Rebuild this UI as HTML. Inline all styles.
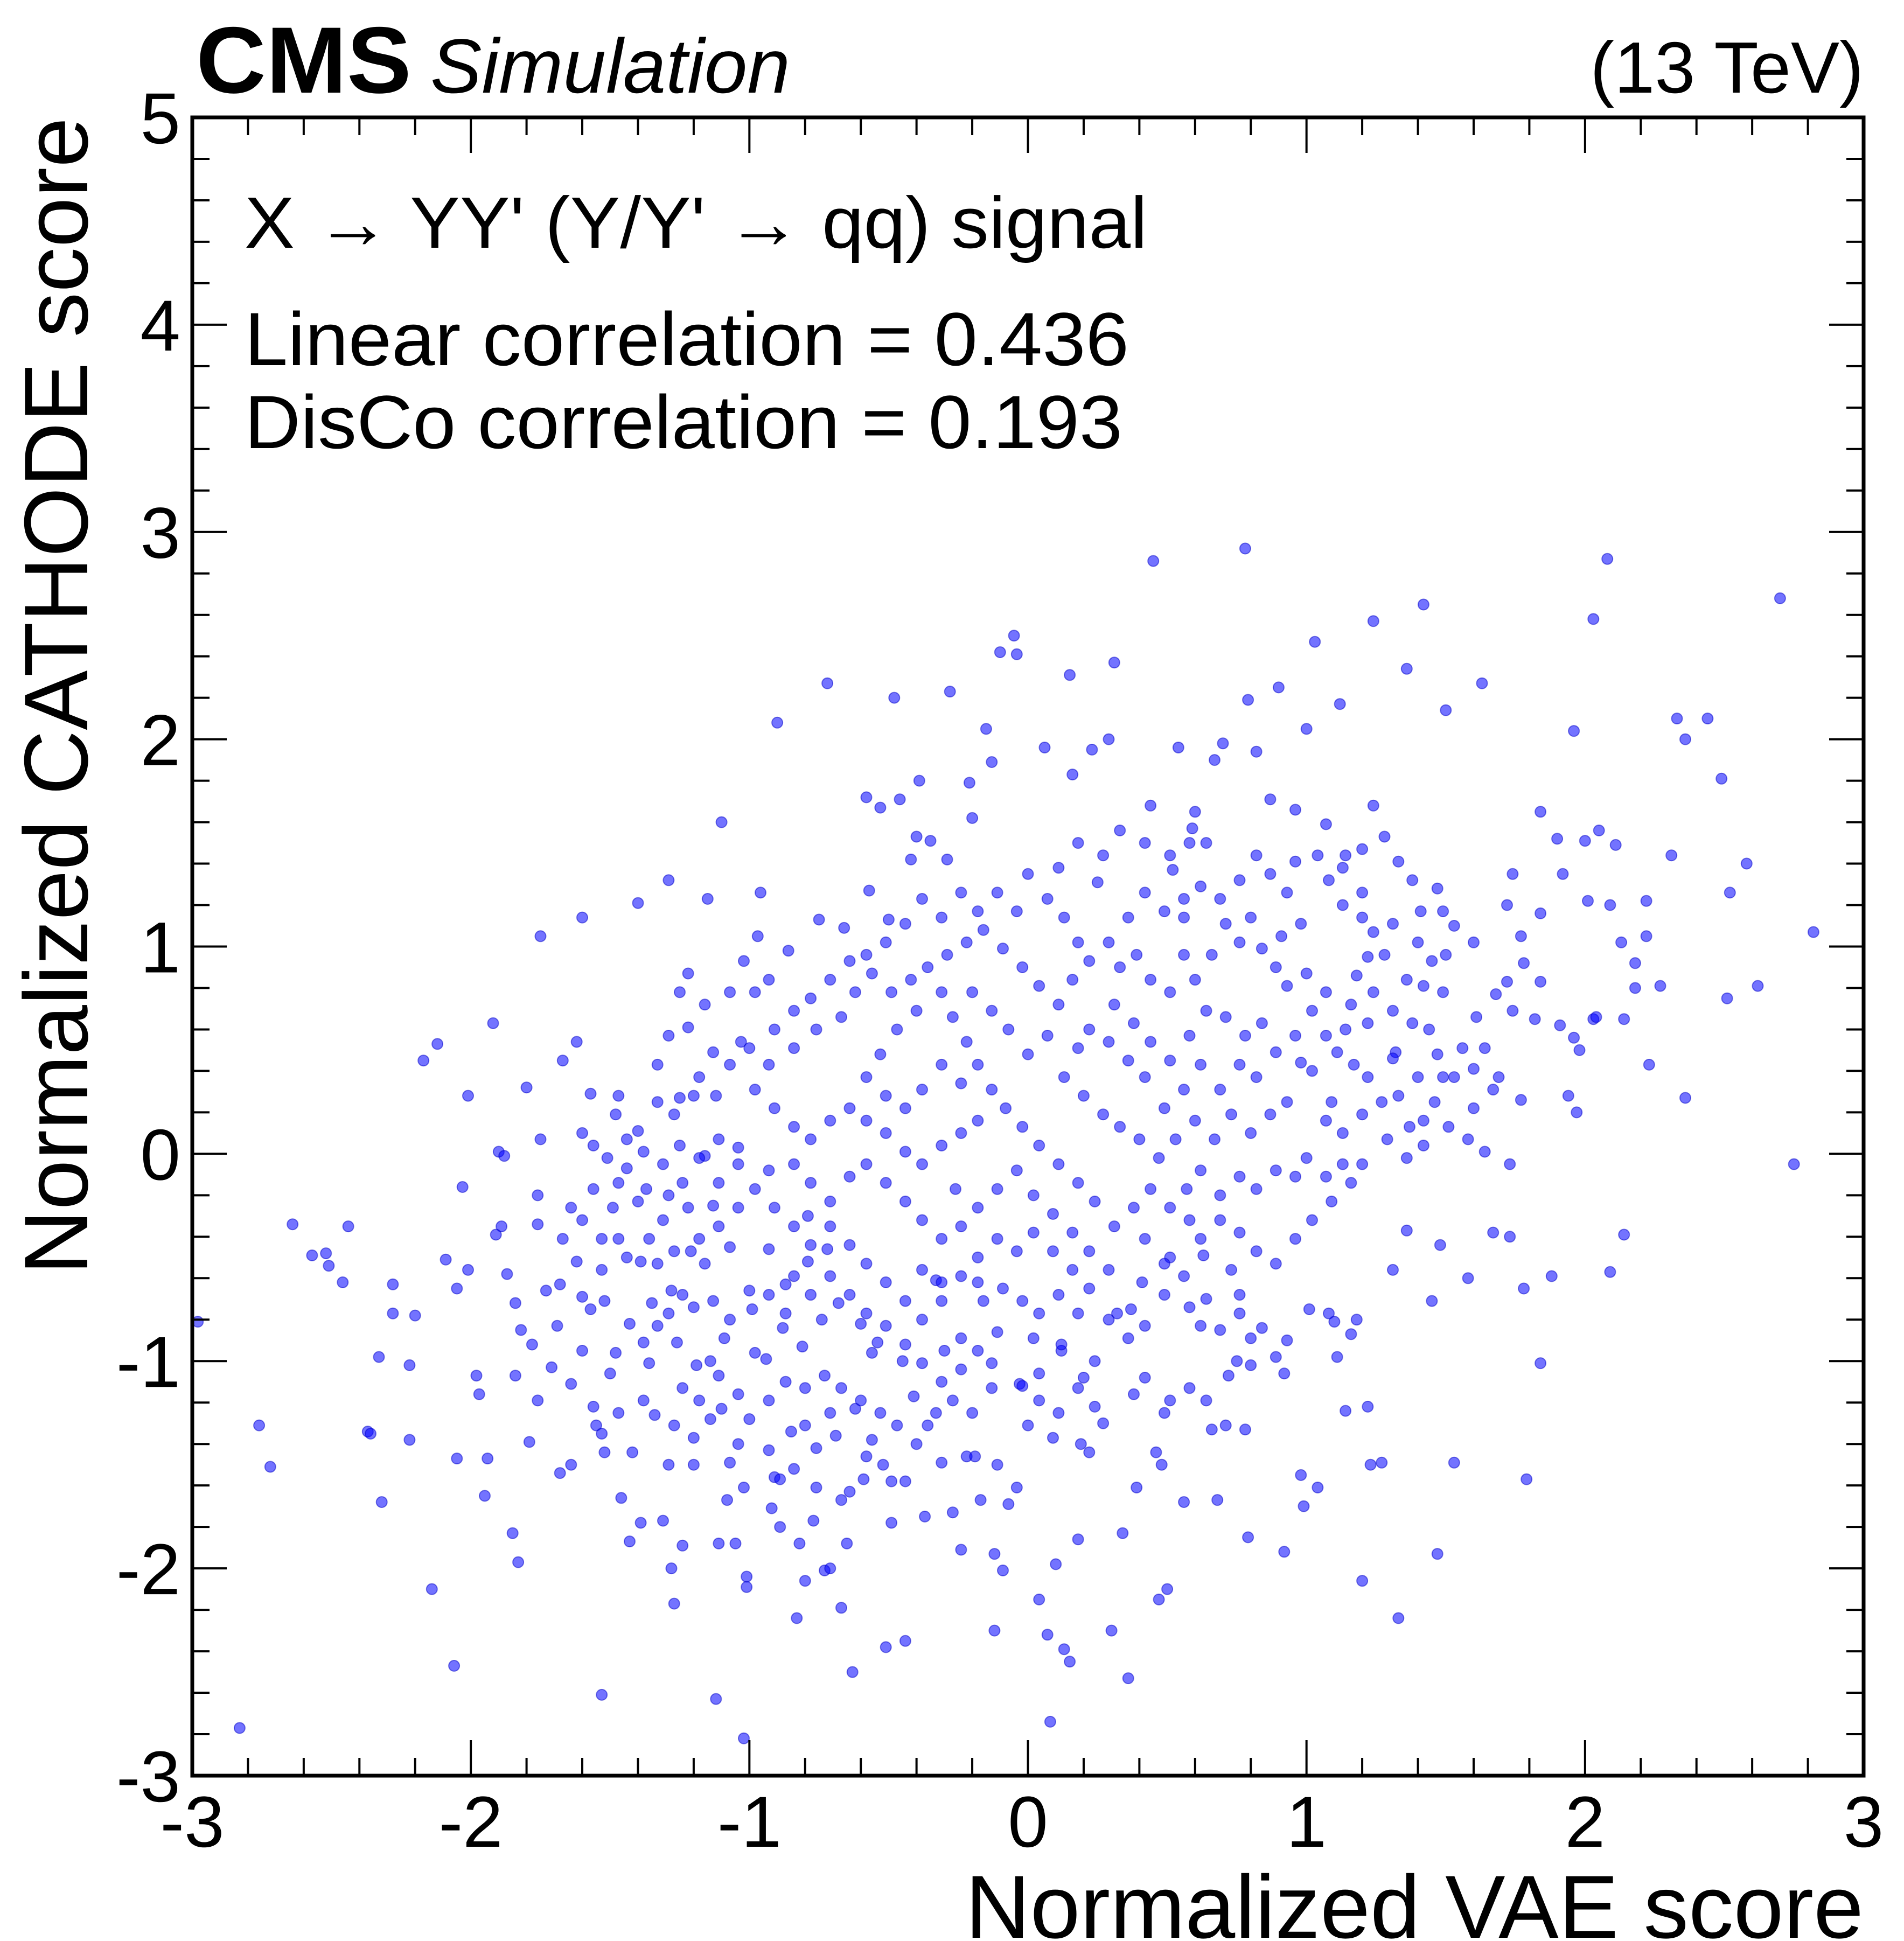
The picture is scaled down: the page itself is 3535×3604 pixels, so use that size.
<!DOCTYPE html>
<html><head><meta charset="utf-8"><style>
html,body{margin:0;padding:0;background:#fff;}
svg{display:block;font-family:"Liberation Sans",Arial,sans-serif;}
</style></head><body>
<svg id="chart" width="3535" height="3604" viewBox="0 0 3535 3604" xmlns="http://www.w3.org/2000/svg">
<rect x="0" y="0" width="3535" height="3604" fill="#fff"/>
<g id="points"></g>
<g id="ticks"></g>
<rect x="357" y="218" width="3103" height="3079" fill="none" stroke="#000" stroke-width="7"/>
<g id="labels"></g>
<text x="364" y="172" font-size="175" font-weight="bold" textLength="400" lengthAdjust="spacingAndGlyphs">CMS</text>
<text x="799" y="172" font-size="143" font-style="italic" textLength="668" lengthAdjust="spacingAndGlyphs">Simulation</text>
<text x="3460" y="172" font-size="135" text-anchor="end">(13 TeV)</text>
<text x="454" y="460" font-size="135" textLength="1676" lengthAdjust="spacingAndGlyphs">X → YY' (Y/Y' → qq) signal</text>
<text x="454" y="678" font-size="140" textLength="1642" lengthAdjust="spacingAndGlyphs">Linear correlation = 0.436</text>
<text x="454" y="832" font-size="140" textLength="1630" lengthAdjust="spacingAndGlyphs">DisCo correlation = 0.193</text>
<text x="3460" y="3598" font-size="166" text-anchor="end" textLength="1668" lengthAdjust="spacingAndGlyphs">Normalized VAE score</text>
<text transform="translate(162,218) rotate(-90)" x="0" y="0" font-size="168" text-anchor="end" textLength="2149" lengthAdjust="spacingAndGlyphs">Normalized CATHODE score</text>
</svg>
<script>
const xTickLabels = ["-3","-2","-1","0","1","2","3"];
const xTickValues = [-3,-2,-1,0,1,2,3];
const yTickLabels = ["-3","-2","-1","0","1","2","3","4","5"];
const yTickValues = [-3,-2,-1,0,1,2,3,4,5];
const scatterPoints = [
[-2.98,-0.81],[-2.83,-2.77],[-2.76,-1.31],[-2.72,-1.51],[-2.64,-0.34],[-2.57,-0.49],[-2.52,-0.48],[-2.51,-0.54],[-2.44,-0.35],[-2.46,-0.62],
[-2.37,-1.34],[-2.36,-1.35],[-2.33,-0.98],[-2.32,-1.68],[-2.28,-0.63],[-2.28,-0.77],[-2.22,-1.02],[-2.22,-1.38],[-2.2,-0.78],[-2.17,0.45],
[-2.14,-2.10],[-2.12,0.53],[-2.09,-0.51],[-2.05,-0.65],[-2.06,-2.47],[-2.03,-0.16],[-2.05,-1.47],[-2.01,0.28],[-2.01,-0.56],[-1.98,-1.07],
[-1.97,-1.16],[-1.94,-1.47],[-1.95,-1.65],[-1.92,0.63],[-1.9,0.01],[-1.88,-0.01],[-1.89,-0.35],[-1.91,-0.39],[-1.87,-0.58],[-1.85,-1.83],
[-1.83,-1.97],[-1.84,-0.72],[-1.82,-0.85],[-1.8,0.32],[-1.79,-1.39],[-1.76,-0.2],[-1.76,-0.34],[-1.75,1.05],[-1.75,0.07],[-1.73,-0.66],
[-1.71,-1.03],[-1.68,-0.63],[-1.68,-1.54],[-1.67,0.45],[-1.64,-1.11],[-1.64,-1.5],[-1.62,-0.52],[-1.62,0.54],[-1.6,1.14],[-1.6,-0.69],
[-1.57,-0.75],[-1.57,0.29],[-1.56,-1.22],[-1.55,-1.31],[-1.53,-2.61],[-1.53,-1.35],[-1.53,-0.56],[-1.52,-0.71],[-1.52,-1.44],[-1.5,-1.06],
[-1.48,-0.96],[-1.48,0.19],[-1.47,-0.41],[-1.46,-1.66],[-1.44,-0.07],[-1.43,-0.82],[-1.43,-1.87],[-1.42,-1.44],[-1.4,1.21],[-1.4,0.11],
[-1.39,-0.52],[-1.39,-1.78],[-1.38,-0.91],[-1.37,-0.17],[-1.36,-0.41],[-1.35,-0.72],[-1.34,-1.26],[-1.33,-0.83],[-1.31,-1.77],[-1.31,-0.32],
[-1.29,1.32],[-1.29,-1.5],[-1.28,-2.0],[-1.28,-0.66],[-1.27,-2.17],[-1.26,-0.91],[-1.25,0.27],[-1.25,0.04],[-1.24,-0.68],[-1.25,0.78],
[-1.24,-1.89],[-1.22,0.87],[-1.22,0.61],[-1.21,-0.47],[-1.2,-1.5],[-1.19,-1.02],[-1.18,0.37],[-1.16,-0.01],[-1.16,-0.53],[-1.15,1.23],
[-1.14,-1.28],[-1.14,-1.0],[-1.13,-0.25],[-1.12,-2.63],[-1.12,0.28],[-1.11,-1.88],[-1.1,1.6],[-1.1,-1.23],[-1.09,-0.89],[-1.08,-1.67],
[-1.07,-0.45],[-1.05,-1.88],[-1.04,0.03],[-1.04,-1.4],[-1.03,0.54],[-1.02,0.93],[-1.02,-2.82],[-1.01,-2.04],[-1.01,-2.09],[-1.0,-0.66],
[-0.99,-0.75],[-0.98,-0.96],[-0.97,1.05],[-0.96,1.26],[-0.94,-0.99],[-0.93,-0.08],[-0.93,-0.46],[-0.92,-1.71],[-0.91,-1.56],[-0.9,2.08],
[-0.89,-1.57],[-0.89,-1.8],[-0.88,-0.84],[-0.87,-0.63],[-0.86,0.98],[-0.85,-1.34],[-0.84,-0.59],[-0.83,-2.24],[-0.82,-1.88],[-0.81,-0.93],
[-0.8,-2.06],[-0.79,-0.52],[-0.79,-0.3],[-0.77,-1.77],[-0.76,-1.42],[-0.75,1.13],[-0.74,-0.8],[-0.73,-2.01],[-0.72,2.27],[-0.72,-0.46],
[-0.71,-2.0],[-0.69,-1.36],[-0.68,-0.72],[-0.67,-2.19],[-0.66,1.09],[-0.65,-1.88],[-0.64,-1.63],[-0.63,-2.5],[-0.62,-1.23],[-0.6,-0.82],
[-0.59,-1.57],[-0.58,1.72],[-0.57,1.27],[-0.56,-1.38],[-0.56,-0.96],[-0.54,-0.91],[-0.53,1.67],[-0.52,-1.5],[-0.51,-2.38],[-0.5,1.13],
[-0.49,-1.78],[-0.48,2.2],[-0.46,1.71],[-0.45,-1.0],[-0.44,-2.35],[-0.44,-1.58],[-0.42,1.42],[-0.41,-1.17],[-0.4,1.53],[-0.39,1.8],
[-0.38,-0.56],[-0.37,-1.75],[-0.36,-1.31],[-0.35,1.51],[-0.33,-0.61],[-0.31,-0.62],[-0.3,-0.95],[-0.29,1.42],[-0.28,2.23],[-0.27,-1.73],
[-0.26,-0.17],[-0.24,-1.91],[-0.24,-0.89],[-0.22,-1.46],[-0.21,1.79],[-0.2,1.62],[-0.19,-1.46],[-0.18,-0.62],[-0.17,-1.67],[-0.16,-0.71],
[-0.15,2.05],[-0.13,1.89],[-0.12,-1.93],[-0.12,-2.3],[-0.11,-1.5],[-0.1,2.42],[-0.09,-2.01],[-0.07,-1.69],[-0.05,2.5],[-0.04,-1.61],
[-0.04,2.41],[-0.03,-1.11],[-0.02,-1.12],[0.0,-1.31],[0.0,1.35],[0.02,-0.89],[0.04,-2.15],[0.04,-1.06],[0.06,1.96],[0.07,-2.32],
[0.08,-2.74],[0.09,-1.37],[0.1,-1.98],[0.12,-0.95],[0.12,-0.92],[0.13,-2.39],[0.15,-2.45],[0.15,2.31],[0.16,1.83],[0.18,-1.86],
[0.19,-1.4],[0.2,-1.08],[0.22,-1.44],[0.23,1.95],[0.24,-1.0],[0.25,1.31],[0.27,-1.3],[0.29,2.0],[0.3,-2.3],[0.31,2.37],
[0.32,-0.77],[0.34,-1.83],[0.36,-2.53],[0.37,-0.75],[0.38,-1.16],[0.39,-1.61],[0.41,-0.62],[0.42,-1.08],[0.44,1.68],[0.45,2.86],
[0.46,-1.44],[0.47,-2.15],[0.48,-1.5],[0.49,-1.25],[0.5,-2.1],[0.51,-0.5],[0.52,1.37],[0.54,1.96],[0.56,1.14],[0.56,-1.68],
[0.58,-0.74],[0.59,1.57],[0.6,1.65],[0.62,-0.83],[0.63,-0.49],[0.64,-0.7],[0.66,-1.33],[0.67,1.9],[0.68,-1.67],[0.69,-0.85],
[0.7,1.98],[0.72,-1.07],[0.73,-0.56],[0.75,-1.0],[0.76,-0.68],[0.78,-1.33],[0.78,2.92],[0.79,-1.85],[0.79,2.19],[0.8,-1.02],
[0.82,1.94],[0.84,-0.84],[0.87,1.71],[0.89,-0.98],[0.9,2.25],[0.92,-1.92],[0.92,-1.06],[0.93,-0.9],[0.96,1.66],[0.98,-1.55],
[0.99,-1.7],[1.0,2.05],[1.01,-0.75],[1.03,2.47],[1.04,-1.61],[1.07,1.59],[1.08,-0.77],[1.1,-0.81],[1.11,-0.98],[1.12,2.17],
[1.14,-1.24],[1.16,-0.87],[1.18,-0.8],[1.2,-2.06],[1.22,-1.22],[1.23,-1.5],[1.24,2.57],[1.27,-1.49],[1.31,-0.56],[1.33,-2.24],
[1.36,2.34],[1.36,-0.37],[1.42,2.65],[1.45,-0.71],[1.47,-1.93],[1.48,-0.44],[1.5,2.14],[1.53,-1.49],[1.58,-0.6],[1.63,2.27],
[1.67,-0.38],[1.73,-0.4],[1.78,-0.65],[1.79,-1.57],[1.84,-1.01],[1.88,-0.59],[1.96,2.04],[2.03,2.58],[2.08,2.87],[2.09,-0.57],
[2.14,-0.39],[2.23,0.43],[2.33,2.1],[2.36,0.27],[2.44,2.1],[2.49,1.81],[2.51,0.75],[2.52,1.26],[2.58,1.4],[2.62,0.81],
[2.7,2.68],[2.75,-0.05],[2.82,1.07],[2.36,2.0],
[1.84,1.65],[1.9,1.52],[2.0,1.51],[2.05,1.56],[2.11,1.49],[2.01,1.22],[1.92,1.35],[1.84,1.16],[1.77,1.05],[1.74,1.35],
[1.72,1.2],[1.78,0.92],[1.84,0.83],[1.72,0.83],[1.68,0.77],[1.74,0.69],[1.61,0.66],[1.64,0.51],[1.6,0.41],[1.69,0.37],
[1.77,0.26],[1.82,0.65],[1.91,0.62],[1.96,0.56],[1.98,0.5],[1.94,0.28],[1.97,0.2],[2.03,0.65],[2.14,0.65],[2.18,0.8],
[2.18,0.92],[2.22,1.05],[2.27,0.81],[2.31,1.44],[2.22,1.22],[2.13,1.02],[2.09,1.2],[2.04,0.66],[1.56,0.51],[1.53,0.37],
[1.49,0.37],[1.42,0.16],[1.37,0.13],[1.33,0.28],[1.32,0.49],[1.38,0.63],[1.44,0.6],[1.49,0.78],[1.42,0.81],[1.45,0.93],
[1.5,0.96],[1.53,1.1],[1.6,1.02],[1.49,1.17],[1.47,1.28],[1.41,1.17],[1.38,1.32],[1.33,1.41],[1.28,1.53],[1.24,1.68],
[1.2,1.47],[1.14,1.44],[1.08,1.32],[1.13,1.2],[1.2,1.14],[1.24,1.07],[1.28,0.96],[1.22,0.95],[1.18,0.86],[1.24,0.78],
[1.31,0.69],[1.22,0.63],[1.14,0.6],[1.11,0.49],[1.17,0.43],[1.22,0.37],[1.27,0.25],[1.2,0.19],[1.13,0.1],[1.07,0.16],
[1.09,0.25],[1.02,0.4],[0.98,0.44],[0.96,0.57],[1.02,0.69],[1.07,0.78],[1.0,0.87],[0.93,0.81],[0.89,0.9],[0.84,0.99],
[0.91,1.05],[0.98,1.11],[0.93,1.26],[0.87,1.35],[0.8,1.14],[0.76,1.02],[0.71,1.11],[0.66,0.96],[0.6,0.84],[0.56,0.96],
[0.51,0.78],[0.44,0.84],[0.39,0.96],[0.33,0.9],[0.31,0.72],[0.38,0.63],[0.44,0.54],[0.51,0.45],[0.58,0.57],[0.64,0.69],
[0.71,0.66],[0.78,0.57],[0.84,0.63],[0.89,0.49],[0.82,0.37],[0.76,0.43],[0.69,0.31],[0.62,0.43],[0.56,0.31],[0.49,0.22],
[0.42,0.37],[0.36,0.45],[0.29,0.54],[0.22,0.6],[0.18,0.51],[0.13,0.37],[0.2,0.28],[0.27,0.19],[0.33,0.13],[0.4,0.07],
[0.47,-0.02],[0.53,0.07],[0.6,0.16],[0.67,0.07],[0.73,0.19],[0.8,0.1],[0.87,0.19],[0.93,0.25],[1.0,-0.02],[0.96,-0.11],
[0.89,-0.08],[0.82,-0.17],[0.76,-0.11],[0.69,-0.2],[0.62,-0.08],[0.57,-0.17],[0.51,-0.26],[0.44,-0.17],[0.38,-0.26],[0.31,-0.35],
[0.24,-0.23],[0.18,-0.14],[0.11,-0.05],[0.04,0.04],[-0.02,0.13],[-0.08,0.22],[-0.13,0.31],[-0.18,0.43],[-0.22,0.54],[-0.27,0.66],
[-0.31,0.78],[-0.36,0.9],[-0.29,0.96],[-0.22,1.02],[-0.16,1.08],[-0.09,0.99],[-0.02,0.9],[0.04,0.81],[0.11,0.72],[0.07,0.57],
[0.0,0.48],[-0.07,0.6],[-0.13,0.69],[-0.2,0.78],[-0.4,0.69],[-0.47,0.6],[-0.53,0.48],[-0.58,0.37],[-0.51,0.28],[-0.44,0.22],
[-0.38,0.31],[-0.31,0.43],[-0.24,0.34],[-0.18,0.16],[-0.24,0.1],[-0.31,0.04],[-0.38,-0.05],[-0.44,0.01],[-0.51,0.1],[-0.58,0.16],
[-0.64,0.22],[-0.71,0.16],[-0.78,0.07],[-0.84,0.13],[-0.91,0.22],[-0.98,0.31],[-0.93,0.43],[-0.84,0.51],[-0.76,0.6],[-0.67,0.66],
[-0.62,0.78],[-0.56,0.87],[-0.49,0.78],[-0.42,0.84],[-0.84,-0.05],[-0.78,-0.14],[-0.71,-0.23],[-0.64,-0.11],[-0.58,-0.05],[-0.51,-0.14],
[-0.44,-0.23],[-0.38,-0.32],[-0.31,-0.41],[-0.24,-0.35],[-0.18,-0.26],[-0.11,-0.17],[-0.04,-0.08],[0.02,-0.2],[0.09,-0.29],[0.16,-0.38],
[0.22,-0.47],[0.29,-0.56],[0.22,-0.65],[0.16,-0.56],[0.09,-0.47],[0.02,-0.38],[-0.04,-0.47],[-0.11,-0.41],[-0.18,-0.5],[-0.24,-0.59],
[-0.31,-0.71],[-0.38,-0.8],[-0.44,-0.71],[-0.51,-0.62],[-0.58,-0.53],[-0.64,-0.44],[-0.71,-0.35],[-0.78,-0.44],[-0.84,-0.35],[-0.91,-0.26],
[-0.98,-0.17],[-1.04,-0.26],[-1.11,-0.35],[-1.18,-0.41],[-1.11,-0.14],[-1.04,-0.05],[-1.11,0.07],[-1.18,-0.02],[-1.24,-0.14],[-1.31,-0.05],
[-1.29,-0.2],[-1.22,-0.26],[-1.2,-0.74],[-1.13,-0.71],[-1.07,-0.8],[-0.93,-0.68],[-0.87,-0.77],[-0.78,-0.68],[-0.71,-0.59],[-0.64,-0.68],
[-0.58,-0.77],[-0.51,-0.83],[-0.44,-0.92],[-0.38,-1.01],[-0.31,-1.1],[-0.24,-1.04],[-0.18,-0.95],[-0.11,-0.86],[-0.09,-0.65],[-0.02,-0.71],
[0.04,-0.77],[0.11,-0.68],[0.18,-0.77],[0.29,-0.8],[0.36,-0.89],[0.42,-0.83],[0.49,-0.68],[0.56,-0.59],[0.62,-0.41],[0.69,-0.32],
[0.76,-0.38],[0.82,-0.47],[0.89,-0.53],[0.96,-0.41],[1.02,-0.32],[1.09,-0.23],[1.16,-0.14],[1.2,-0.05],[1.13,-0.05],[1.07,-0.11],
[1.29,0.07],[1.36,-0.02],[1.42,0.04],[1.51,0.13],[1.58,0.07],[1.64,0.01],[1.73,-0.05],[1.6,0.22],[1.67,0.31],[1.46,0.25],
[1.4,0.37],[1.47,0.48],[1.31,0.46],[1.07,0.57],[1.16,0.72],[1.36,0.84],[1.4,1.02],[1.31,1.11],[1.2,1.26],[1.13,1.38],
[1.04,1.44],[0.96,1.41],[0.82,1.44],[0.76,1.32],[0.69,1.23],[0.62,1.29],[0.56,1.23],[0.49,1.17],[0.42,1.26],[0.36,1.14],
[0.29,1.02],[0.22,0.93],[0.16,0.84],[0.18,1.02],[0.13,1.14],[0.07,1.23],[0.11,1.38],[0.18,1.5],[0.27,1.44],[0.33,1.56],
[0.42,1.5],[0.51,1.44],[0.58,1.5],[0.64,1.5],[-0.04,1.17],[-0.11,1.26],[-0.18,1.17],[-0.24,1.26],[-0.31,1.14],[-0.38,1.23],
[-0.44,1.11],[-0.51,1.02],[-0.58,0.96],[-0.64,0.93],[-0.71,0.84],[-0.78,0.75],[-0.84,0.69],[-0.91,0.6],[-1.0,0.51],[-1.07,0.43],
[-1.13,0.49],[-1.2,0.28],[-1.27,0.19],[-1.33,0.25],[-1.38,0.01],[-1.44,0.07],[-1.51,-0.02],[-1.47,-0.14],[-1.4,-0.23],[-1.49,-0.26],
[-1.56,-0.17],[-1.6,-0.32],[-1.53,-0.41],[-1.44,-0.5],[-1.33,-0.53],[-1.27,-0.47],[-1.29,-0.77],[-1.36,-1.01],[-1.24,-1.13],[-1.18,-1.19],
[-1.11,-1.07],[-1.04,-1.16],[-1.0,-1.28],[-0.93,-1.19],[-0.87,-1.1],[-0.8,-1.13],[-0.73,-1.07],[-0.67,-1.13],[-0.6,-1.19],[-0.53,-1.25],
[-0.47,-1.31],[-0.4,-1.4],[-0.33,-1.25],[-0.27,-1.19],[-0.2,-1.25],[-0.13,-1.13],[-0.13,-1.01],[-0.8,-1.31],[-0.71,-1.25],[-0.93,-1.43],
[-0.84,-1.52],[-0.76,-1.61],[-0.67,-1.67],[-0.58,-1.46],[-0.49,-1.58],[-0.31,-1.49],[-1.2,-1.37],[-1.27,-1.31],[-1.47,-1.25],[-1.38,-1.19],
[-1.07,-1.49],[-1.02,-1.61],[-1.6,-0.95],[-1.69,-0.83],[-1.78,-0.92],[-1.84,-1.07],[-1.76,-1.19],[-1.67,-0.41],[-1.64,-0.26],[-1.56,0.04],
[-1.6,0.1],[-1.47,0.28],[-1.33,0.43],[-1.29,0.57],[-1.16,0.72],[-1.07,0.78],[-0.98,0.78],[-0.93,0.84],[0.49,-0.53],[0.42,-0.41],
[0.58,-0.32],[0.76,-0.77],[0.8,-0.89],[0.58,-1.13],[0.51,-1.19],[0.64,-1.19],[0.71,-1.31],[0.18,-1.13],[0.24,-1.22],[0.11,-1.25],[0.04,-1.19]
];

const X0 = 357, X1 = 3460, Y0 = 3297, Y1 = 218;
const xMin = -3, xMax = 3, yMin = -3, yMax = 5;
function sx(v){ return X0 + (v - xMin) / (xMax - xMin) * (X1 - X0); }
function sy(v){ return Y0 - (v - yMin) / (yMax - yMin) * (Y0 - Y1); }
const NS = "http://www.w3.org/2000/svg";

const gp = document.getElementById("points");
scatterPoints.forEach(function(p, i){
  const c = document.createElementNS(NS, "circle");
  c.setAttribute("cx", sx(p[0]).toFixed(1));
  c.setAttribute("cy", sy(p[1]).toFixed(1));
  c.setAttribute("r", "10");
  c.setAttribute("fill", "rgba(0,0,255,0.55)");
  c.setAttribute("stroke", "rgba(0,0,200,0.5)");
  c.setAttribute("stroke-width", "2");
  
  
  gp.appendChild(c);
});

const gt = document.getElementById("ticks");
function line(x1,y1,x2,y2,name){
  const l = document.createElementNS(NS, "line");
  l.setAttribute("x1", x1); l.setAttribute("y1", y1);
  l.setAttribute("x2", x2); l.setAttribute("y2", y2);
  l.setAttribute("stroke", "#000"); l.setAttribute("stroke-width", "4");
  
  
  gt.appendChild(l);
}
for (let k = 0; k <= 30; k++) {
  const v = xMin + k * 0.2;
  const x = sx(v);
  const len = (k % 5 === 0) ? 66 : 33;
  line(x, Y0, x, Y0 - len, 'x-tick');
  line(x, Y1, x, Y1 + len, 'x-tick-top');
}
for (let k = 0; k <= 40; k++) {
  const v = yMin + k * 0.2;
  const y = sy(v);
  const len = (k % 5 === 0) ? 64 : 32;
  line(X0, y, X0 + len, y, 'y-tick');
  line(X1, y, X1 - len, y, 'y-tick-right');
}

const gl = document.getElementById("labels");
xTickValues.forEach(function(v, i){
  const t = document.createElementNS(NS, "text");
  t.setAttribute("x", sx(v));
  t.setAttribute("y", 3429);
  t.setAttribute("font-size", "134");
  t.setAttribute("text-anchor", "middle");
  t.textContent = xTickLabels[i];
  
  
  gl.appendChild(t);
});
yTickValues.forEach(function(v, i){
  const t = document.createElementNS(NS, "text");
  t.setAttribute("x", 335);
  t.setAttribute("y", sy(v) + 48);
  t.setAttribute("font-size", "134");
  t.setAttribute("text-anchor", "end");
  t.textContent = yTickLabels[i];
  
  
  gl.appendChild(t);
});
</script>
</body></html>
